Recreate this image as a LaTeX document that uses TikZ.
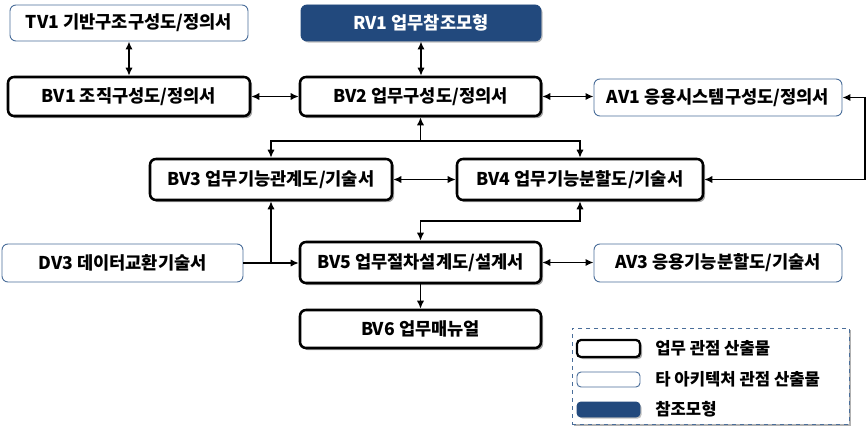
\documentclass[tikz,border=0pt]{standalone}
\usepackage{fontspec}
\setmainfont{Noto Sans CJK KR}
\usetikzlibrary{arrows.meta,shadows}
\definecolor{refblue}{HTML}{22497D}
\definecolor{thinblue}{HTML}{4A6E9A}
\tikzset{
  wh/.style 2 args={minimum width=#1*0.75pt, minimum height=#2*0.75pt},
  base/.style={rounded corners=4.5pt, inner sep=0pt, align=center, font=\fontsize{13.2}{15}\selectfont\bfseries},
  bizbox/.style={base, draw=black, line width=1.9pt, fill=white,
    drop shadow={shadow xshift=1.6pt, shadow yshift=-1.6pt, opacity=0.35, fill=black}},
  otherbox/.style={base, draw=thinblue, line width=0.7pt, fill=white},
  refbox/.style={base, draw=refblue, line width=0.7pt, fill=refblue, text=white,
    drop shadow={shadow xshift=1.2pt, shadow yshift=-1.2pt, opacity=0.25, fill=black}},
  conn/.style={line width=1.3pt, draw=black},
  arr/.style={conn, -{Latex[length=6pt,width=5.5pt]}},
  dbl/.style={conn, {Latex[length=6pt,width=5.5pt]}-{Latex[length=6pt,width=5.5pt]}},
  legtext/.style={anchor=west, inner sep=0pt, font=\fontsize{12.5}{14}\selectfont\bfseries},
}
\begin{document}
\begin{tikzpicture}[x=0.75pt,y=-0.75pt]
\useasboundingbox (0,0) rectangle (868,435);
% nodes
\node[otherbox, wh={238}{36}] (TV1) at (129,23) {TV1 기반구조구성도/정의서};
\node[refbox,   wh={240}{36}] (RV1) at (421,23) {RV1 업무참조모형};
\node[bizbox,   wh={242}{39}] (BV1) at (129,96.5) {BV1 조직구성도/정의서};
\node[bizbox,   wh={241}{39}] (BV2) at (420.5,96.5) {BV2 업무구성도/정의서};
\node[otherbox, wh={248}{37}] (AV1) at (718,97.5) {AV1 응용시스템구성도/정의서};
\node[bizbox,   wh={242}{41}] (BV3) at (271,179.5) {BV3 업무기능관계도/기술서};
\node[bizbox,   wh={246}{41}] (BV4) at (580,179.5) {BV4 업무기능분할도/기술서};
\node[otherbox, wh={241}{38}] (DV3) at (122.5,263) {DV3 데이터교환기술서};
\node[bizbox,   wh={241}{41}] (BV5) at (420.5,262.5) {BV5 업무절차설계도/설계서};
\node[otherbox, wh={248}{38}] (AV3) at (718,263) {AV3 응용기능분할도/기술서};
\node[bizbox,   wh={241}{38}] (BV6) at (420.5,329) {BV6 업무매뉴얼};
% connectors
\draw[dbl] (TV1.south) -- (BV1.north);
\draw[dbl] (RV1.south) -- (RV1.south |- BV2.north);
\draw[dbl] (BV1.east) -- (BV2.west);
\draw[dbl] (BV2.east) -- (BV2.east -| AV1.west);
\coordinate (j1) at (420.5,141);
\draw[arr] (j1) -- (BV2.south);
\draw[arr] (j1) -| (BV3.north);
\draw[arr] (j1) -| (BV4.north);
\draw[dbl] (BV3.east) -- (BV4.west);
\coordinate (r1) at (865,97.5);
\draw[dbl] (AV1.east) -- (r1) |- (BV4.east);
\coordinate (j2) at (580,221);
\draw[dbl] (BV4.south) -- (j2) -| (BV5.north);
\coordinate (j3) at (271,263);
\draw[arr] (DV3.east) -- (DV3.east -| BV5.west);
\draw[arr] (j3) -- (BV3.south);
\draw[dbl] (BV5.east) -- (BV5.east -| AV3.west);
\draw[arr] (BV5.south) -- (BV6.north);
% legend
\node[draw=thinblue, dashed, line width=0.6pt, fill=white, inner sep=0pt, wh={277}{96},
  drop shadow={shadow xshift=1.5pt, shadow yshift=-1.5pt, opacity=0.3, fill=black}] (LEG) at (710.5,376) {};
\node[bizbox, rounded corners=3pt, line width=1.7pt, wh={63}{17}] (L1) at (608.5,348.5) {};
\node[otherbox, rounded corners=3pt, wh={63}{15}] (L2) at (608.5,379.5) {};
\node[refbox, rounded corners=3pt, wh={63}{15}] (L3) at (608.5,409.5) {};
\node[legtext] (T1) at (655,348.5) {업무 관점 산출물};
\node[legtext] (T2) at (655,379.5) {타 아키텍처 관점 산출물};
\node[legtext] (T3) at (655,409.5) {참조모형};
\end{tikzpicture}
\end{document}
